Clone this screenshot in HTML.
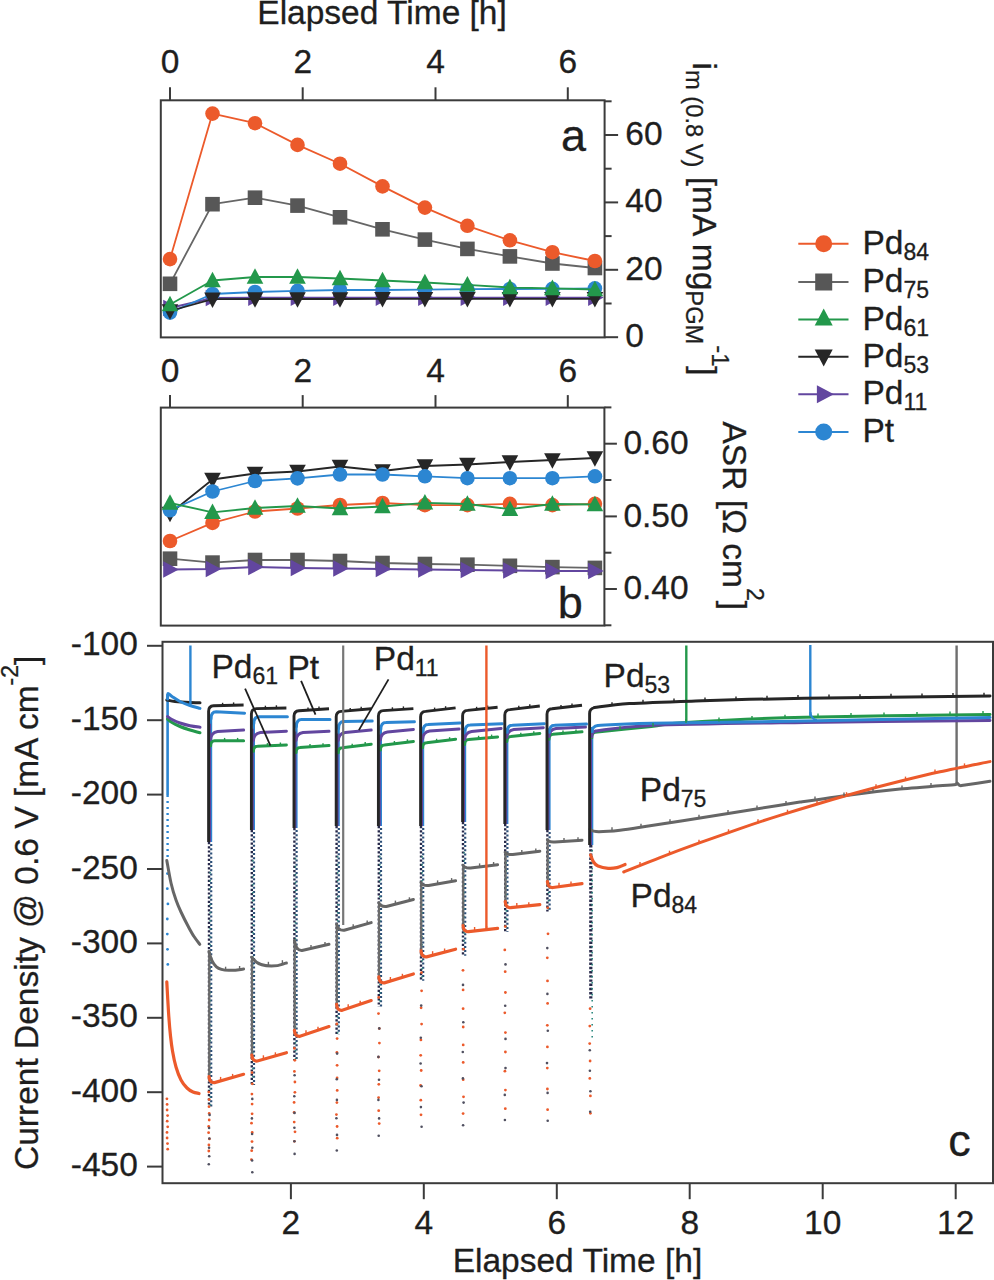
<!DOCTYPE html>
<html><head><meta charset="utf-8"><style>
html,body{margin:0;padding:0;background:#fff;}
svg{display:block;}
text{font-family:"Liberation Sans",sans-serif;fill:#1e1e1e;stroke:#1e1e1e;stroke-width:0.3px;}
</style></head><body>
<svg width="994" height="1280" viewBox="0 0 994 1280">
<rect width="994" height="1280" fill="#fff"/>
<text x="257.3" y="24.0" font-size="33.5" text-anchor="start" >Elapsed Time [h]</text>
<rect x="160.8" y="100.3" width="443.8" height="237.1" fill="none" stroke="#3b3b3b" stroke-width="2"/>
<line x1="170.0" y1="100.3" x2="170.0" y2="87.3" stroke="#3b3b3b" stroke-width="2" />
<text x="170.0" y="73.3" font-size="33.5" text-anchor="middle" >0</text>
<line x1="302.7" y1="100.3" x2="302.7" y2="87.3" stroke="#3b3b3b" stroke-width="2" />
<text x="302.7" y="73.3" font-size="33.5" text-anchor="middle" >2</text>
<line x1="435.5" y1="100.3" x2="435.5" y2="87.3" stroke="#3b3b3b" stroke-width="2" />
<text x="435.5" y="73.3" font-size="33.5" text-anchor="middle" >4</text>
<line x1="567.8" y1="100.3" x2="567.8" y2="87.3" stroke="#3b3b3b" stroke-width="2" />
<text x="567.8" y="73.3" font-size="33.5" text-anchor="middle" >6</text>
<line x1="604.6" y1="337.2" x2="618.1" y2="337.2" stroke="#3b3b3b" stroke-width="2" />
<text x="625.3" y="347.0" font-size="33.5" text-anchor="start" >0</text>
<line x1="604.6" y1="269.8" x2="618.1" y2="269.8" stroke="#3b3b3b" stroke-width="2" />
<text x="625.3" y="279.6" font-size="33.5" text-anchor="start" >20</text>
<line x1="604.6" y1="202.4" x2="618.1" y2="202.4" stroke="#3b3b3b" stroke-width="2" />
<text x="625.3" y="212.2" font-size="33.5" text-anchor="start" >40</text>
<line x1="604.6" y1="135.0" x2="618.1" y2="135.0" stroke="#3b3b3b" stroke-width="2" />
<text x="625.3" y="144.8" font-size="33.5" text-anchor="start" >60</text>
<line x1="604.6" y1="303.5" x2="611.6" y2="303.5" stroke="#3b3b3b" stroke-width="2" />
<line x1="604.6" y1="236.1" x2="611.6" y2="236.1" stroke="#3b3b3b" stroke-width="2" />
<line x1="604.6" y1="168.7" x2="611.6" y2="168.7" stroke="#3b3b3b" stroke-width="2" />
<line x1="604.6" y1="101.3" x2="611.6" y2="101.3" stroke="#3b3b3b" stroke-width="2" />
<text transform="translate(692.6,62.6) rotate(90)" font-size="33.5">i<tspan font-size="23.7" dy="6.4">m (0.8 V)</tspan><tspan dy="-6.4"> [mA mg</tspan><tspan font-size="23.7" dy="6.6">PGM</tspan><tspan font-size="23.7" dx="1" dy="-26.3">-1</tspan><tspan dy="19.7">]</tspan></text>
<text x="561.0" y="150.8" font-size="45" text-anchor="start" >a</text>
<path d="M170.0,283.8 L212.5,204.2 L255.0,197.7 L297.5,205.6 L340.0,217.3 L382.5,229.3 L424.9,239.6 L467.4,248.9 L509.9,256.4 L552.4,263.5 L594.9,268.0" fill="none" stroke="#666666" stroke-width="1.8" stroke-linejoin="round" stroke-linecap="round" />
<rect x="162.7" y="276.5" width="14.6" height="14.6" fill="#575757"/>
<rect x="205.2" y="196.9" width="14.6" height="14.6" fill="#575757"/>
<rect x="247.7" y="190.4" width="14.6" height="14.6" fill="#575757"/>
<rect x="290.2" y="198.3" width="14.6" height="14.6" fill="#575757"/>
<rect x="332.7" y="210.0" width="14.6" height="14.6" fill="#575757"/>
<rect x="375.2" y="222.0" width="14.6" height="14.6" fill="#575757"/>
<rect x="417.6" y="232.3" width="14.6" height="14.6" fill="#575757"/>
<rect x="460.1" y="241.6" width="14.6" height="14.6" fill="#575757"/>
<rect x="502.6" y="249.1" width="14.6" height="14.6" fill="#575757"/>
<rect x="545.1" y="256.2" width="14.6" height="14.6" fill="#575757"/>
<rect x="587.6" y="260.7" width="14.6" height="14.6" fill="#575757"/>
<path d="M170.0,259.1 L212.5,113.6 L255.0,123.2 L297.5,144.9 L340.0,163.7 L382.5,186.4 L424.9,207.6 L467.4,225.8 L509.9,240.3 L552.4,252.2 L594.9,261.0" fill="none" stroke="#ec5a2b" stroke-width="1.8" stroke-linejoin="round" stroke-linecap="round" />
<circle cx="170.0" cy="259.1" r="7.3" fill="#ec5a2b"/>
<circle cx="212.5" cy="113.6" r="7.3" fill="#ec5a2b"/>
<circle cx="255.0" cy="123.2" r="7.3" fill="#ec5a2b"/>
<circle cx="297.5" cy="144.9" r="7.3" fill="#ec5a2b"/>
<circle cx="340.0" cy="163.7" r="7.3" fill="#ec5a2b"/>
<circle cx="382.5" cy="186.4" r="7.3" fill="#ec5a2b"/>
<circle cx="424.9" cy="207.6" r="7.3" fill="#ec5a2b"/>
<circle cx="467.4" cy="225.8" r="7.3" fill="#ec5a2b"/>
<circle cx="509.9" cy="240.3" r="7.3" fill="#ec5a2b"/>
<circle cx="552.4" cy="252.2" r="7.3" fill="#ec5a2b"/>
<circle cx="594.9" cy="261.0" r="7.3" fill="#ec5a2b"/>
<path d="M170.0,308.0 L212.5,298.0 L255.0,297.6 L297.5,297.6 L340.0,297.6 L382.5,297.6 L424.9,297.6 L467.4,297.6 L509.9,297.6 L552.4,297.6 L594.9,297.6" fill="none" stroke="#62469f" stroke-width="1.8" stroke-linejoin="round" stroke-linecap="round" />
<path d="M178.8,308.0 L163.2,299.7 L163.2,316.3Z" fill="#62469f"/>
<path d="M221.3,298.0 L205.7,289.7 L205.7,306.3Z" fill="#62469f"/>
<path d="M263.8,297.6 L248.2,289.3 L248.2,305.9Z" fill="#62469f"/>
<path d="M306.3,297.6 L290.7,289.3 L290.7,305.9Z" fill="#62469f"/>
<path d="M348.8,297.6 L333.2,289.3 L333.2,305.9Z" fill="#62469f"/>
<path d="M391.3,297.6 L375.7,289.3 L375.7,305.9Z" fill="#62469f"/>
<path d="M433.7,297.6 L418.1,289.3 L418.1,305.9Z" fill="#62469f"/>
<path d="M476.2,297.6 L460.6,289.3 L460.6,305.9Z" fill="#62469f"/>
<path d="M518.7,297.6 L503.1,289.3 L503.1,305.9Z" fill="#62469f"/>
<path d="M561.2,297.6 L545.6,289.3 L545.6,305.9Z" fill="#62469f"/>
<path d="M603.7,297.6 L588.1,289.3 L588.1,305.9Z" fill="#62469f"/>
<path d="M170.0,312.6 L212.5,294.0 L255.0,292.0 L297.5,290.8 L340.0,290.0 L382.5,290.0 L424.9,289.6 L467.4,289.2 L509.9,289.0 L552.4,288.8 L594.9,288.4" fill="none" stroke="#2c86d2" stroke-width="1.8" stroke-linejoin="round" stroke-linecap="round" />
<circle cx="170.0" cy="312.6" r="7.3" fill="#2c86d2"/>
<circle cx="212.5" cy="294.0" r="7.3" fill="#2c86d2"/>
<circle cx="255.0" cy="292.0" r="7.3" fill="#2c86d2"/>
<circle cx="297.5" cy="290.8" r="7.3" fill="#2c86d2"/>
<circle cx="340.0" cy="290.0" r="7.3" fill="#2c86d2"/>
<circle cx="382.5" cy="290.0" r="7.3" fill="#2c86d2"/>
<circle cx="424.9" cy="289.6" r="7.3" fill="#2c86d2"/>
<circle cx="467.4" cy="289.2" r="7.3" fill="#2c86d2"/>
<circle cx="509.9" cy="289.0" r="7.3" fill="#2c86d2"/>
<circle cx="552.4" cy="288.8" r="7.3" fill="#2c86d2"/>
<circle cx="594.9" cy="288.4" r="7.3" fill="#2c86d2"/>
<path d="M170.0,311.0 L212.5,299.2 L255.0,299.0 L297.5,299.0 L340.0,299.0 L382.5,298.8 L424.9,298.8 L467.4,298.8 L509.9,298.8 L552.4,298.8 L594.9,298.8" fill="none" stroke="#262626" stroke-width="1.8" stroke-linejoin="round" stroke-linecap="round" />
<path d="M170.0,319.8 L178.3,304.2 L161.7,304.2Z" fill="#262626"/>
<path d="M212.5,308.0 L220.8,292.4 L204.2,292.4Z" fill="#262626"/>
<path d="M255.0,307.8 L263.3,292.2 L246.7,292.2Z" fill="#262626"/>
<path d="M297.5,307.8 L305.8,292.2 L289.2,292.2Z" fill="#262626"/>
<path d="M340.0,307.8 L348.3,292.2 L331.7,292.2Z" fill="#262626"/>
<path d="M382.5,307.6 L390.8,292.0 L374.2,292.0Z" fill="#262626"/>
<path d="M424.9,307.6 L433.2,292.0 L416.6,292.0Z" fill="#262626"/>
<path d="M467.4,307.6 L475.7,292.0 L459.1,292.0Z" fill="#262626"/>
<path d="M509.9,307.6 L518.2,292.0 L501.6,292.0Z" fill="#262626"/>
<path d="M552.4,307.6 L560.7,292.0 L544.1,292.0Z" fill="#262626"/>
<path d="M594.9,307.6 L603.2,292.0 L586.6,292.0Z" fill="#262626"/>
<path d="M170.0,304.5 L212.5,280.5 L255.0,277.0 L297.5,277.0 L340.0,278.5 L382.5,280.5 L424.9,282.5 L467.4,284.8 L509.9,287.5 L552.4,288.4 L594.9,289.5" fill="none" stroke="#23984b" stroke-width="1.8" stroke-linejoin="round" stroke-linecap="round" />
<path d="M170.0,295.7 L178.3,311.3 L161.7,311.3Z" fill="#23984b"/>
<path d="M212.5,271.7 L220.8,287.3 L204.2,287.3Z" fill="#23984b"/>
<path d="M255.0,268.2 L263.3,283.8 L246.7,283.8Z" fill="#23984b"/>
<path d="M297.5,268.2 L305.8,283.8 L289.2,283.8Z" fill="#23984b"/>
<path d="M340.0,269.7 L348.3,285.3 L331.7,285.3Z" fill="#23984b"/>
<path d="M382.5,271.7 L390.8,287.3 L374.2,287.3Z" fill="#23984b"/>
<path d="M424.9,273.7 L433.2,289.3 L416.6,289.3Z" fill="#23984b"/>
<path d="M467.4,276.0 L475.7,291.6 L459.1,291.6Z" fill="#23984b"/>
<path d="M509.9,278.7 L518.2,294.3 L501.6,294.3Z" fill="#23984b"/>
<path d="M552.4,279.6 L560.7,295.2 L544.1,295.2Z" fill="#23984b"/>
<path d="M594.9,280.7 L603.2,296.3 L586.6,296.3Z" fill="#23984b"/>
<rect x="160.8" y="407.6" width="443.6" height="218.0" fill="none" stroke="#3b3b3b" stroke-width="2"/>
<line x1="170.0" y1="407.6" x2="170.0" y2="395.1" stroke="#3b3b3b" stroke-width="2" />
<text x="170.0" y="382.2" font-size="33.5" text-anchor="middle" >0</text>
<line x1="302.7" y1="407.6" x2="302.7" y2="395.1" stroke="#3b3b3b" stroke-width="2" />
<text x="302.7" y="382.2" font-size="33.5" text-anchor="middle" >2</text>
<line x1="435.5" y1="407.6" x2="435.5" y2="395.1" stroke="#3b3b3b" stroke-width="2" />
<text x="435.5" y="382.2" font-size="33.5" text-anchor="middle" >4</text>
<line x1="567.8" y1="407.6" x2="567.8" y2="395.1" stroke="#3b3b3b" stroke-width="2" />
<text x="567.8" y="382.2" font-size="33.5" text-anchor="middle" >6</text>
<line x1="604.4" y1="443.7" x2="616.9" y2="443.7" stroke="#3b3b3b" stroke-width="2" />
<text x="623.4" y="454.0" font-size="33.5" text-anchor="start" >0.60</text>
<line x1="604.4" y1="516.4" x2="616.9" y2="516.4" stroke="#3b3b3b" stroke-width="2" />
<text x="623.4" y="526.6" font-size="33.5" text-anchor="start" >0.50</text>
<line x1="604.4" y1="589.0" x2="616.9" y2="589.0" stroke="#3b3b3b" stroke-width="2" />
<text x="623.4" y="599.3" font-size="33.5" text-anchor="start" >0.40</text>
<line x1="604.4" y1="407.4" x2="611.4" y2="407.4" stroke="#3b3b3b" stroke-width="2" />
<line x1="604.4" y1="480.0" x2="611.4" y2="480.0" stroke="#3b3b3b" stroke-width="2" />
<line x1="604.4" y1="552.7" x2="611.4" y2="552.7" stroke="#3b3b3b" stroke-width="2" />
<line x1="604.4" y1="625.3" x2="611.4" y2="625.3" stroke="#3b3b3b" stroke-width="2" />
<text transform="translate(723.4,421.5) rotate(90)" font-size="33.5">ASR [Ω cm<tspan font-size="23" dy="-24">2</tspan><tspan dy="24">]</tspan></text>
<text x="557.7" y="617.8" font-size="45" text-anchor="start" >b</text>
<path d="M170.0,558.7 L212.5,562.6 L255.0,560.0 L297.5,560.0 L340.0,561.0 L382.5,563.0 L424.9,564.0 L467.4,564.7 L509.9,565.8 L552.4,567.1 L594.9,567.9" fill="none" stroke="#666666" stroke-width="1.8" stroke-linejoin="round" stroke-linecap="round" />
<rect x="162.7" y="551.4" width="14.6" height="14.6" fill="#575757"/>
<rect x="205.2" y="555.3" width="14.6" height="14.6" fill="#575757"/>
<rect x="247.7" y="552.7" width="14.6" height="14.6" fill="#575757"/>
<rect x="290.2" y="552.7" width="14.6" height="14.6" fill="#575757"/>
<rect x="332.7" y="553.7" width="14.6" height="14.6" fill="#575757"/>
<rect x="375.2" y="555.7" width="14.6" height="14.6" fill="#575757"/>
<rect x="417.6" y="556.7" width="14.6" height="14.6" fill="#575757"/>
<rect x="460.1" y="557.4" width="14.6" height="14.6" fill="#575757"/>
<rect x="502.6" y="558.5" width="14.6" height="14.6" fill="#575757"/>
<rect x="545.1" y="559.8" width="14.6" height="14.6" fill="#575757"/>
<rect x="587.6" y="560.6" width="14.6" height="14.6" fill="#575757"/>
<path d="M170.0,569.5 L212.5,569.0 L255.0,567.0 L297.5,568.0 L340.0,568.5 L382.5,569.0 L424.9,569.5 L467.4,570.0 L509.9,570.5 L552.4,571.0 L594.9,571.0" fill="none" stroke="#62469f" stroke-width="1.8" stroke-linejoin="round" stroke-linecap="round" />
<path d="M178.8,569.5 L163.2,561.2 L163.2,577.8Z" fill="#62469f"/>
<path d="M221.3,569.0 L205.7,560.7 L205.7,577.3Z" fill="#62469f"/>
<path d="M263.8,567.0 L248.2,558.7 L248.2,575.3Z" fill="#62469f"/>
<path d="M306.3,568.0 L290.7,559.7 L290.7,576.3Z" fill="#62469f"/>
<path d="M348.8,568.5 L333.2,560.2 L333.2,576.8Z" fill="#62469f"/>
<path d="M391.3,569.0 L375.7,560.7 L375.7,577.3Z" fill="#62469f"/>
<path d="M433.7,569.5 L418.1,561.2 L418.1,577.8Z" fill="#62469f"/>
<path d="M476.2,570.0 L460.6,561.7 L460.6,578.3Z" fill="#62469f"/>
<path d="M518.7,570.5 L503.1,562.2 L503.1,578.8Z" fill="#62469f"/>
<path d="M561.2,571.0 L545.6,562.7 L545.6,579.3Z" fill="#62469f"/>
<path d="M603.7,571.0 L588.1,562.7 L588.1,579.3Z" fill="#62469f"/>
<path d="M170.0,541.0 L212.5,522.9 L255.0,511.5 L297.5,508.5 L340.0,505.0 L382.5,503.0 L424.9,505.1 L467.4,505.1 L509.9,503.8 L552.4,505.1 L594.9,503.8" fill="none" stroke="#ec5a2b" stroke-width="1.8" stroke-linejoin="round" stroke-linecap="round" />
<circle cx="170.0" cy="541.0" r="7.3" fill="#ec5a2b"/>
<circle cx="212.5" cy="522.9" r="7.3" fill="#ec5a2b"/>
<circle cx="255.0" cy="511.5" r="7.3" fill="#ec5a2b"/>
<circle cx="297.5" cy="508.5" r="7.3" fill="#ec5a2b"/>
<circle cx="340.0" cy="505.0" r="7.3" fill="#ec5a2b"/>
<circle cx="382.5" cy="503.0" r="7.3" fill="#ec5a2b"/>
<circle cx="424.9" cy="505.1" r="7.3" fill="#ec5a2b"/>
<circle cx="467.4" cy="505.1" r="7.3" fill="#ec5a2b"/>
<circle cx="509.9" cy="503.8" r="7.3" fill="#ec5a2b"/>
<circle cx="552.4" cy="505.1" r="7.3" fill="#ec5a2b"/>
<circle cx="594.9" cy="503.8" r="7.3" fill="#ec5a2b"/>
<path d="M170.0,513.5 L212.5,479.5 L255.0,473.5 L297.5,471.5 L340.0,466.5 L382.5,471.0 L424.9,466.0 L467.4,464.5 L509.9,462.0 L552.4,460.0 L594.9,458.0" fill="none" stroke="#262626" stroke-width="1.8" stroke-linejoin="round" stroke-linecap="round" />
<path d="M170.0,522.3 L178.3,506.7 L161.7,506.7Z" fill="#262626"/>
<path d="M212.5,488.3 L220.8,472.7 L204.2,472.7Z" fill="#262626"/>
<path d="M255.0,482.3 L263.3,466.7 L246.7,466.7Z" fill="#262626"/>
<path d="M297.5,480.3 L305.8,464.7 L289.2,464.7Z" fill="#262626"/>
<path d="M340.0,475.3 L348.3,459.7 L331.7,459.7Z" fill="#262626"/>
<path d="M382.5,479.8 L390.8,464.2 L374.2,464.2Z" fill="#262626"/>
<path d="M424.9,474.8 L433.2,459.2 L416.6,459.2Z" fill="#262626"/>
<path d="M467.4,473.3 L475.7,457.7 L459.1,457.7Z" fill="#262626"/>
<path d="M509.9,470.8 L518.2,455.2 L501.6,455.2Z" fill="#262626"/>
<path d="M552.4,468.8 L560.7,453.2 L544.1,453.2Z" fill="#262626"/>
<path d="M594.9,466.8 L603.2,451.2 L586.6,451.2Z" fill="#262626"/>
<path d="M170.0,510.3 L212.5,491.5 L255.0,481.0 L297.5,478.4 L340.0,474.5 L382.5,474.5 L424.9,476.3 L467.4,478.2 L509.9,478.2 L552.4,478.2 L594.9,476.3" fill="none" stroke="#2c86d2" stroke-width="1.8" stroke-linejoin="round" stroke-linecap="round" />
<circle cx="170.0" cy="510.3" r="7.3" fill="#2c86d2"/>
<circle cx="212.5" cy="491.5" r="7.3" fill="#2c86d2"/>
<circle cx="255.0" cy="481.0" r="7.3" fill="#2c86d2"/>
<circle cx="297.5" cy="478.4" r="7.3" fill="#2c86d2"/>
<circle cx="340.0" cy="474.5" r="7.3" fill="#2c86d2"/>
<circle cx="382.5" cy="474.5" r="7.3" fill="#2c86d2"/>
<circle cx="424.9" cy="476.3" r="7.3" fill="#2c86d2"/>
<circle cx="467.4" cy="478.2" r="7.3" fill="#2c86d2"/>
<circle cx="509.9" cy="478.2" r="7.3" fill="#2c86d2"/>
<circle cx="552.4" cy="478.2" r="7.3" fill="#2c86d2"/>
<circle cx="594.9" cy="476.3" r="7.3" fill="#2c86d2"/>
<path d="M170.0,503.0 L212.5,512.3 L255.0,508.0 L297.5,506.0 L340.0,508.5 L382.5,506.5 L424.9,502.8 L467.4,504.0 L509.9,509.2 L552.4,504.0 L594.9,504.5" fill="none" stroke="#23984b" stroke-width="1.8" stroke-linejoin="round" stroke-linecap="round" />
<path d="M170.0,494.2 L178.3,509.8 L161.7,509.8Z" fill="#23984b"/>
<path d="M212.5,503.5 L220.8,519.1 L204.2,519.1Z" fill="#23984b"/>
<path d="M255.0,499.2 L263.3,514.8 L246.7,514.8Z" fill="#23984b"/>
<path d="M297.5,497.2 L305.8,512.8 L289.2,512.8Z" fill="#23984b"/>
<path d="M340.0,499.7 L348.3,515.3 L331.7,515.3Z" fill="#23984b"/>
<path d="M382.5,497.7 L390.8,513.3 L374.2,513.3Z" fill="#23984b"/>
<path d="M424.9,494.0 L433.2,509.6 L416.6,509.6Z" fill="#23984b"/>
<path d="M467.4,495.2 L475.7,510.8 L459.1,510.8Z" fill="#23984b"/>
<path d="M509.9,500.4 L518.2,516.0 L501.6,516.0Z" fill="#23984b"/>
<path d="M552.4,495.2 L560.7,510.8 L544.1,510.8Z" fill="#23984b"/>
<path d="M594.9,495.7 L603.2,511.3 L586.6,511.3Z" fill="#23984b"/>
<line x1="798.3" y1="243.7" x2="848.5" y2="243.7" stroke="#ec5a2b" stroke-width="2" />
<circle cx="823.7" cy="243.7" r="8.5" fill="#ec5a2b"/>
<text x="862.4" y="253.7" font-size="33.5">Pd<tspan font-size="23" dy="6">84</tspan></text>
<line x1="798.3" y1="282.0" x2="848.5" y2="282.0" stroke="#666666" stroke-width="2" />
<rect x="815.2" y="273.5" width="17.0" height="17.0" fill="#575757"/>
<text x="862.4" y="292.0" font-size="33.5">Pd<tspan font-size="23" dy="6">75</tspan></text>
<line x1="798.3" y1="319.5" x2="848.5" y2="319.5" stroke="#23984b" stroke-width="2" />
<path d="M823.7,308.5 L832.7,325.5 L814.7,325.5Z" fill="#23984b"/>
<text x="862.4" y="329.5" font-size="33.5">Pd<tspan font-size="23" dy="6">61</tspan></text>
<line x1="798.3" y1="356.8" x2="848.5" y2="356.8" stroke="#262626" stroke-width="2" />
<path d="M823.7,366.5 L832.7,349.5 L814.7,349.5Z" fill="#262626"/>
<text x="862.4" y="366.8" font-size="33.5">Pd<tspan font-size="23" dy="6">53</tspan></text>
<line x1="798.3" y1="394.2" x2="848.5" y2="394.2" stroke="#62469f" stroke-width="2" />
<path d="M833.9,394.2 L816.9,385.2 L816.9,403.2Z" fill="#62469f"/>
<text x="862.4" y="404.2" font-size="33.5">Pd<tspan font-size="23" dy="6">11</tspan></text>
<line x1="798.3" y1="432.0" x2="848.5" y2="432.0" stroke="#2c86d2" stroke-width="2" />
<circle cx="823.7" cy="432.0" r="8.5" fill="#2c86d2"/>
<text x="862.4" y="442.0" font-size="33.5" text-anchor="start" >Pt</text>
<rect x="162.5" y="641.8" width="830.5" height="541.4" fill="none" stroke="#3b3b3b" stroke-width="2"/>
<line x1="162.5" y1="645.8" x2="147.0" y2="645.8" stroke="#3b3b3b" stroke-width="2" />
<text x="137.8" y="655.4" font-size="33.5" text-anchor="end" >-100</text>
<line x1="162.5" y1="720.2" x2="147.0" y2="720.2" stroke="#3b3b3b" stroke-width="2" />
<text x="137.8" y="729.8" font-size="33.5" text-anchor="end" >-150</text>
<line x1="162.5" y1="794.6" x2="147.0" y2="794.6" stroke="#3b3b3b" stroke-width="2" />
<text x="137.8" y="804.2" font-size="33.5" text-anchor="end" >-200</text>
<line x1="162.5" y1="869.0" x2="147.0" y2="869.0" stroke="#3b3b3b" stroke-width="2" />
<text x="137.8" y="878.6" font-size="33.5" text-anchor="end" >-250</text>
<line x1="162.5" y1="943.4" x2="147.0" y2="943.4" stroke="#3b3b3b" stroke-width="2" />
<text x="137.8" y="953.0" font-size="33.5" text-anchor="end" >-300</text>
<line x1="162.5" y1="1017.8" x2="147.0" y2="1017.8" stroke="#3b3b3b" stroke-width="2" />
<text x="137.8" y="1027.4" font-size="33.5" text-anchor="end" >-350</text>
<line x1="162.5" y1="1092.2" x2="147.0" y2="1092.2" stroke="#3b3b3b" stroke-width="2" />
<text x="137.8" y="1101.8" font-size="33.5" text-anchor="end" >-400</text>
<line x1="162.5" y1="1166.6" x2="147.0" y2="1166.6" stroke="#3b3b3b" stroke-width="2" />
<text x="137.8" y="1176.2" font-size="33.5" text-anchor="end" >-450</text>
<line x1="290.9" y1="1183.2" x2="290.9" y2="1199.2" stroke="#3b3b3b" stroke-width="2" />
<text x="290.9" y="1234.2" font-size="33.5" text-anchor="middle" >2</text>
<line x1="423.8" y1="1183.2" x2="423.8" y2="1199.2" stroke="#3b3b3b" stroke-width="2" />
<text x="423.8" y="1234.2" font-size="33.5" text-anchor="middle" >4</text>
<line x1="556.8" y1="1183.2" x2="556.8" y2="1199.2" stroke="#3b3b3b" stroke-width="2" />
<text x="556.8" y="1234.2" font-size="33.5" text-anchor="middle" >6</text>
<line x1="689.7" y1="1183.2" x2="689.7" y2="1199.2" stroke="#3b3b3b" stroke-width="2" />
<text x="689.7" y="1234.2" font-size="33.5" text-anchor="middle" >8</text>
<line x1="822.7" y1="1183.2" x2="822.7" y2="1199.2" stroke="#3b3b3b" stroke-width="2" />
<text x="822.7" y="1234.2" font-size="33.5" text-anchor="middle" >10</text>
<line x1="955.7" y1="1183.2" x2="955.7" y2="1199.2" stroke="#3b3b3b" stroke-width="2" />
<text x="955.7" y="1234.2" font-size="33.5" text-anchor="middle" >12</text>
<text x="452.7" y="1272.4" font-size="33.5" text-anchor="start" >Elapsed Time [h]</text>
<text transform="translate(37.6,1170) rotate(-90)" font-size="33.5">Current Density @ 0.6 V [mA cm<tspan font-size="23" dy="-19.5">-2</tspan><tspan dy="19.5">]</tspan></text>
<text x="948.2" y="1156.2" font-size="45" text-anchor="start" >c</text>
<line x1="211.0" y1="714.8" x2="211.0" y2="842.0" stroke="#2c86d2" stroke-width="2.4" />
<line x1="210.2" y1="723.8" x2="210.2" y2="842.0" stroke="#62469f" stroke-width="1.6" />
<line x1="209.0" y1="842.0" x2="209.0" y2="1106.6" stroke="#27294a" stroke-width="2.4" stroke-dasharray="2.2 2.0"/>
<line x1="211.2" y1="844.1" x2="211.2" y2="1106.6" stroke="#2c4f78" stroke-width="2.2" stroke-dasharray="2.0 2.2"/>
<line x1="210.1" y1="872.0" x2="210.1" y2="1106.6" stroke="#2b8a7c" stroke-width="1.4" stroke-dasharray="1.4 6.6"/>
<line x1="209.2" y1="951.5" x2="209.2" y2="1081.6" stroke="#6b6b6b" stroke-width="2.2" />
<circle cx="208.8" cy="1092.1" r="1.4" fill="#ec5a2b"/>
<circle cx="209.1" cy="1099.6" r="1.4" fill="#ec5a2b"/>
<circle cx="209.0" cy="1106.7" r="1.4" fill="#ec5a2b"/>
<circle cx="209.2" cy="1113.4" r="1.4" fill="#ec5a2b"/>
<circle cx="209.2" cy="1120.0" r="1.4" fill="#ec5a2b"/>
<circle cx="208.7" cy="1126.4" r="1.4" fill="#ec5a2b"/>
<circle cx="208.6" cy="1132.7" r="1.4" fill="#ec5a2b"/>
<circle cx="209.4" cy="1138.9" r="1.4" fill="#ec5a2b"/>
<circle cx="208.9" cy="1145.0" r="1.4" fill="#ec5a2b"/>
<circle cx="208.8" cy="1151.0" r="1.4" fill="#ec5a2b"/>
<circle cx="209.6" cy="1114.9" r="1.3" fill="#505060"/>
<circle cx="209.1" cy="1128.0" r="1.3" fill="#505060"/>
<circle cx="209.4" cy="1138.5" r="1.3" fill="#505060"/>
<circle cx="209.1" cy="1147.8" r="1.3" fill="#505060"/>
<circle cx="209.2" cy="1156.3" r="1.3" fill="#505060"/>
<circle cx="208.8" cy="1164.2" r="1.3" fill="#505060"/>
<line x1="253.8" y1="719.8" x2="253.8" y2="830.0" stroke="#2c86d2" stroke-width="2.4" />
<line x1="253.0" y1="728.8" x2="253.0" y2="830.0" stroke="#62469f" stroke-width="1.6" />
<line x1="251.8" y1="830.0" x2="251.8" y2="1085.0" stroke="#27294a" stroke-width="2.4" stroke-dasharray="2.2 2.0"/>
<line x1="254.0" y1="832.1" x2="254.0" y2="1085.0" stroke="#2c4f78" stroke-width="2.2" stroke-dasharray="2.0 2.2"/>
<line x1="252.9" y1="860.0" x2="252.9" y2="1085.0" stroke="#2b8a7c" stroke-width="1.4" stroke-dasharray="1.4 6.6"/>
<line x1="252.0" y1="957.3" x2="252.0" y2="1060.0" stroke="#6b6b6b" stroke-width="2.2" />
<circle cx="252.0" cy="1072.6" r="1.4" fill="#ec5a2b"/>
<circle cx="252.3" cy="1083.8" r="1.4" fill="#ec5a2b"/>
<circle cx="251.9" cy="1094.1" r="1.4" fill="#ec5a2b"/>
<circle cx="252.1" cy="1104.1" r="1.4" fill="#ec5a2b"/>
<circle cx="252.1" cy="1113.8" r="1.4" fill="#ec5a2b"/>
<circle cx="251.5" cy="1123.2" r="1.4" fill="#ec5a2b"/>
<circle cx="252.2" cy="1132.5" r="1.4" fill="#ec5a2b"/>
<circle cx="252.0" cy="1141.6" r="1.4" fill="#ec5a2b"/>
<circle cx="251.7" cy="1150.7" r="1.4" fill="#ec5a2b"/>
<circle cx="251.4" cy="1159.6" r="1.4" fill="#ec5a2b"/>
<circle cx="252.3" cy="1098.9" r="1.3" fill="#505060"/>
<circle cx="251.9" cy="1118.4" r="1.3" fill="#505060"/>
<circle cx="252.1" cy="1134.0" r="1.3" fill="#505060"/>
<circle cx="252.3" cy="1147.8" r="1.3" fill="#505060"/>
<circle cx="252.1" cy="1160.5" r="1.3" fill="#505060"/>
<circle cx="252.3" cy="1172.3" r="1.3" fill="#505060"/>
<line x1="296.4" y1="722.6" x2="296.4" y2="828.0" stroke="#2c86d2" stroke-width="2.4" />
<line x1="295.6" y1="731.6" x2="295.6" y2="828.0" stroke="#62469f" stroke-width="1.6" />
<line x1="294.4" y1="828.0" x2="294.4" y2="1060.3" stroke="#27294a" stroke-width="2.4" stroke-dasharray="2.2 2.0"/>
<line x1="296.6" y1="830.1" x2="296.6" y2="1060.3" stroke="#2c4f78" stroke-width="2.2" stroke-dasharray="2.0 2.2"/>
<line x1="295.5" y1="858.0" x2="295.5" y2="1060.3" stroke="#2b8a7c" stroke-width="1.4" stroke-dasharray="1.4 6.6"/>
<line x1="294.6" y1="941.4" x2="294.6" y2="1035.3" stroke="#6b6b6b" stroke-width="2.2" />
<circle cx="294.4" cy="1048.4" r="1.4" fill="#ec5a2b"/>
<circle cx="294.8" cy="1060.3" r="1.4" fill="#ec5a2b"/>
<circle cx="294.4" cy="1071.4" r="1.4" fill="#ec5a2b"/>
<circle cx="294.9" cy="1082.0" r="1.4" fill="#ec5a2b"/>
<circle cx="294.9" cy="1092.3" r="1.4" fill="#ec5a2b"/>
<circle cx="294.1" cy="1102.4" r="1.4" fill="#ec5a2b"/>
<circle cx="294.1" cy="1112.4" r="1.4" fill="#ec5a2b"/>
<circle cx="294.2" cy="1122.1" r="1.4" fill="#ec5a2b"/>
<circle cx="295.0" cy="1131.8" r="1.4" fill="#ec5a2b"/>
<circle cx="294.4" cy="1141.3" r="1.4" fill="#ec5a2b"/>
<circle cx="294.6" cy="1075.3" r="1.3" fill="#505060"/>
<circle cx="294.3" cy="1096.2" r="1.3" fill="#505060"/>
<circle cx="294.5" cy="1112.9" r="1.3" fill="#505060"/>
<circle cx="294.4" cy="1127.7" r="1.3" fill="#505060"/>
<circle cx="294.4" cy="1141.3" r="1.3" fill="#505060"/>
<circle cx="294.6" cy="1153.9" r="1.3" fill="#505060"/>
<line x1="338.6" y1="724.4" x2="338.6" y2="826.0" stroke="#2c86d2" stroke-width="2.4" />
<line x1="337.8" y1="733.4" x2="337.8" y2="826.0" stroke="#62469f" stroke-width="1.6" />
<line x1="336.6" y1="826.0" x2="336.6" y2="1034.3" stroke="#27294a" stroke-width="2.4" stroke-dasharray="2.2 2.0"/>
<line x1="338.8" y1="828.1" x2="338.8" y2="1034.3" stroke="#2c4f78" stroke-width="2.2" stroke-dasharray="2.0 2.2"/>
<line x1="337.7" y1="856.0" x2="337.7" y2="1034.3" stroke="#2b8a7c" stroke-width="1.4" stroke-dasharray="1.4 6.6"/>
<line x1="336.8" y1="925.5" x2="336.8" y2="1009.3" stroke="#6b6b6b" stroke-width="2.2" />
<circle cx="336.8" cy="1024.0" r="1.4" fill="#ec5a2b"/>
<circle cx="337.1" cy="1038.6" r="1.4" fill="#ec5a2b"/>
<circle cx="336.9" cy="1052.3" r="1.4" fill="#ec5a2b"/>
<circle cx="337.1" cy="1065.3" r="1.4" fill="#ec5a2b"/>
<circle cx="337.1" cy="1078.0" r="1.4" fill="#ec5a2b"/>
<circle cx="337.2" cy="1090.4" r="1.4" fill="#ec5a2b"/>
<circle cx="336.9" cy="1102.6" r="1.4" fill="#ec5a2b"/>
<circle cx="336.4" cy="1114.6" r="1.4" fill="#ec5a2b"/>
<circle cx="337.1" cy="1126.5" r="1.4" fill="#ec5a2b"/>
<circle cx="337.2" cy="1138.2" r="1.4" fill="#ec5a2b"/>
<circle cx="337.1" cy="1053.6" r="1.3" fill="#505060"/>
<circle cx="336.8" cy="1079.3" r="1.3" fill="#505060"/>
<circle cx="336.9" cy="1099.9" r="1.3" fill="#505060"/>
<circle cx="336.4" cy="1118.2" r="1.3" fill="#505060"/>
<circle cx="337.0" cy="1134.9" r="1.3" fill="#505060"/>
<circle cx="336.8" cy="1150.5" r="1.3" fill="#505060"/>
<line x1="380.8" y1="725.4" x2="380.8" y2="826.0" stroke="#2c86d2" stroke-width="2.4" />
<line x1="380.0" y1="734.4" x2="380.0" y2="826.0" stroke="#62469f" stroke-width="1.6" />
<line x1="378.8" y1="826.0" x2="378.8" y2="1006.8" stroke="#27294a" stroke-width="2.4" stroke-dasharray="2.2 2.0"/>
<line x1="381.0" y1="828.1" x2="381.0" y2="1006.8" stroke="#2c4f78" stroke-width="2.2" stroke-dasharray="2.0 2.2"/>
<line x1="379.9" y1="856.0" x2="379.9" y2="1006.8" stroke="#2b8a7c" stroke-width="1.4" stroke-dasharray="1.4 6.6"/>
<line x1="379.0" y1="903.8" x2="379.0" y2="981.8" stroke="#6b6b6b" stroke-width="2.2" />
<circle cx="378.7" cy="997.4" r="1.4" fill="#ec5a2b"/>
<circle cx="378.5" cy="1013.6" r="1.4" fill="#ec5a2b"/>
<circle cx="379.3" cy="1028.6" r="1.4" fill="#ec5a2b"/>
<circle cx="379.4" cy="1043.1" r="1.4" fill="#ec5a2b"/>
<circle cx="378.5" cy="1057.1" r="1.4" fill="#ec5a2b"/>
<circle cx="379.2" cy="1070.8" r="1.4" fill="#ec5a2b"/>
<circle cx="378.8" cy="1084.3" r="1.4" fill="#ec5a2b"/>
<circle cx="378.6" cy="1097.6" r="1.4" fill="#ec5a2b"/>
<circle cx="378.7" cy="1110.7" r="1.4" fill="#ec5a2b"/>
<circle cx="379.2" cy="1123.6" r="1.4" fill="#ec5a2b"/>
<circle cx="379.3" cy="1028.4" r="1.3" fill="#505060"/>
<circle cx="378.4" cy="1056.9" r="1.3" fill="#505060"/>
<circle cx="379.0" cy="1079.8" r="1.3" fill="#505060"/>
<circle cx="378.4" cy="1099.9" r="1.3" fill="#505060"/>
<circle cx="379.1" cy="1118.4" r="1.3" fill="#505060"/>
<circle cx="378.7" cy="1135.7" r="1.3" fill="#505060"/>
<line x1="423.0" y1="727.5" x2="423.0" y2="826.0" stroke="#2c86d2" stroke-width="2.4" />
<line x1="422.2" y1="736.5" x2="422.2" y2="826.0" stroke="#62469f" stroke-width="1.6" />
<line x1="421.0" y1="826.0" x2="421.0" y2="980.8" stroke="#27294a" stroke-width="2.4" stroke-dasharray="2.2 2.0"/>
<line x1="423.2" y1="828.1" x2="423.2" y2="980.8" stroke="#2c4f78" stroke-width="2.2" stroke-dasharray="2.0 2.2"/>
<line x1="422.1" y1="856.0" x2="422.1" y2="980.8" stroke="#2b8a7c" stroke-width="1.4" stroke-dasharray="1.4 6.6"/>
<line x1="421.2" y1="883.6" x2="421.2" y2="955.8" stroke="#6b6b6b" stroke-width="2.2" />
<circle cx="421.5" cy="972.6" r="1.4" fill="#ec5a2b"/>
<circle cx="421.6" cy="990.8" r="1.4" fill="#ec5a2b"/>
<circle cx="421.1" cy="1007.8" r="1.4" fill="#ec5a2b"/>
<circle cx="421.6" cy="1024.1" r="1.4" fill="#ec5a2b"/>
<circle cx="420.9" cy="1039.9" r="1.4" fill="#ec5a2b"/>
<circle cx="420.7" cy="1055.3" r="1.4" fill="#ec5a2b"/>
<circle cx="421.2" cy="1070.5" r="1.4" fill="#ec5a2b"/>
<circle cx="420.6" cy="1085.5" r="1.4" fill="#ec5a2b"/>
<circle cx="420.8" cy="1100.2" r="1.4" fill="#ec5a2b"/>
<circle cx="421.0" cy="1114.8" r="1.4" fill="#ec5a2b"/>
<circle cx="421.2" cy="1005.6" r="1.3" fill="#505060"/>
<circle cx="420.8" cy="1037.7" r="1.3" fill="#505060"/>
<circle cx="420.6" cy="1063.5" r="1.3" fill="#505060"/>
<circle cx="421.5" cy="1086.3" r="1.3" fill="#505060"/>
<circle cx="420.9" cy="1107.1" r="1.3" fill="#505060"/>
<circle cx="421.6" cy="1126.7" r="1.3" fill="#505060"/>
<line x1="465.0" y1="728.0" x2="465.0" y2="822.0" stroke="#2c86d2" stroke-width="2.4" />
<line x1="464.2" y1="737.0" x2="464.2" y2="822.0" stroke="#62469f" stroke-width="1.6" />
<line x1="463.0" y1="822.0" x2="463.0" y2="955.7" stroke="#27294a" stroke-width="2.4" stroke-dasharray="2.2 2.0"/>
<line x1="465.2" y1="824.1" x2="465.2" y2="955.7" stroke="#2c4f78" stroke-width="2.2" stroke-dasharray="2.0 2.2"/>
<line x1="464.1" y1="852.0" x2="464.1" y2="955.7" stroke="#2b8a7c" stroke-width="1.4" stroke-dasharray="1.4 6.6"/>
<line x1="463.2" y1="866.2" x2="463.2" y2="930.7" stroke="#6b6b6b" stroke-width="2.2" />
<circle cx="463.5" cy="949.2" r="1.4" fill="#ec5a2b"/>
<circle cx="463.0" cy="970.3" r="1.4" fill="#ec5a2b"/>
<circle cx="463.1" cy="989.9" r="1.4" fill="#ec5a2b"/>
<circle cx="463.1" cy="1008.7" r="1.4" fill="#ec5a2b"/>
<circle cx="463.2" cy="1027.0" r="1.4" fill="#ec5a2b"/>
<circle cx="463.2" cy="1044.9" r="1.4" fill="#ec5a2b"/>
<circle cx="463.2" cy="1062.4" r="1.4" fill="#ec5a2b"/>
<circle cx="463.2" cy="1079.7" r="1.4" fill="#ec5a2b"/>
<circle cx="463.5" cy="1096.8" r="1.4" fill="#ec5a2b"/>
<circle cx="463.1" cy="1113.6" r="1.4" fill="#ec5a2b"/>
<circle cx="463.0" cy="984.9" r="1.3" fill="#505060"/>
<circle cx="463.3" cy="1022.2" r="1.3" fill="#505060"/>
<circle cx="462.8" cy="1052.0" r="1.3" fill="#505060"/>
<circle cx="462.9" cy="1078.4" r="1.3" fill="#505060"/>
<circle cx="463.6" cy="1102.6" r="1.3" fill="#505060"/>
<circle cx="463.1" cy="1125.2" r="1.3" fill="#505060"/>
<line x1="507.2" y1="728.3" x2="507.2" y2="824.0" stroke="#2c86d2" stroke-width="2.4" />
<line x1="506.4" y1="737.3" x2="506.4" y2="824.0" stroke="#62469f" stroke-width="1.6" />
<line x1="505.2" y1="824.0" x2="505.2" y2="931.7" stroke="#27294a" stroke-width="2.4" stroke-dasharray="2.2 2.0"/>
<line x1="507.4" y1="826.1" x2="507.4" y2="931.7" stroke="#2c4f78" stroke-width="2.2" stroke-dasharray="2.0 2.2"/>
<line x1="506.3" y1="854.0" x2="506.3" y2="931.7" stroke="#2b8a7c" stroke-width="1.4" stroke-dasharray="1.4 6.6"/>
<line x1="505.4" y1="853.2" x2="505.4" y2="906.7" stroke="#6b6b6b" stroke-width="2.2" />
<circle cx="505.3" cy="926.6" r="1.4" fill="#ec5a2b"/>
<circle cx="504.8" cy="949.9" r="1.4" fill="#ec5a2b"/>
<circle cx="505.2" cy="971.7" r="1.4" fill="#ec5a2b"/>
<circle cx="505.4" cy="992.5" r="1.4" fill="#ec5a2b"/>
<circle cx="504.8" cy="1012.8" r="1.4" fill="#ec5a2b"/>
<circle cx="505.4" cy="1032.6" r="1.4" fill="#ec5a2b"/>
<circle cx="505.4" cy="1052.0" r="1.4" fill="#ec5a2b"/>
<circle cx="504.9" cy="1071.2" r="1.4" fill="#ec5a2b"/>
<circle cx="505.4" cy="1090.1" r="1.4" fill="#ec5a2b"/>
<circle cx="505.3" cy="1108.7" r="1.4" fill="#ec5a2b"/>
<circle cx="505.5" cy="964.4" r="1.3" fill="#505060"/>
<circle cx="505.2" cy="1005.7" r="1.3" fill="#505060"/>
<circle cx="505.5" cy="1038.9" r="1.3" fill="#505060"/>
<circle cx="505.5" cy="1068.1" r="1.3" fill="#505060"/>
<circle cx="504.8" cy="1094.9" r="1.3" fill="#505060"/>
<circle cx="504.9" cy="1120.0" r="1.3" fill="#505060"/>
<line x1="549.4" y1="728.3" x2="549.4" y2="830.0" stroke="#2c86d2" stroke-width="2.4" />
<line x1="548.6" y1="737.3" x2="548.6" y2="830.0" stroke="#62469f" stroke-width="1.6" />
<line x1="547.4" y1="830.0" x2="547.4" y2="911.5" stroke="#27294a" stroke-width="2.4" stroke-dasharray="2.2 2.0"/>
<line x1="549.6" y1="832.1" x2="549.6" y2="911.5" stroke="#2c4f78" stroke-width="2.2" stroke-dasharray="2.0 2.2"/>
<line x1="548.5" y1="860.0" x2="548.5" y2="911.5" stroke="#2b8a7c" stroke-width="1.4" stroke-dasharray="1.4 6.6"/>
<line x1="547.6" y1="840.8" x2="547.6" y2="886.5" stroke="#6b6b6b" stroke-width="2.2" />
<circle cx="547.7" cy="907.8" r="1.4" fill="#ec5a2b"/>
<circle cx="548.0" cy="933.8" r="1.4" fill="#ec5a2b"/>
<circle cx="547.3" cy="957.8" r="1.4" fill="#ec5a2b"/>
<circle cx="547.5" cy="980.9" r="1.4" fill="#ec5a2b"/>
<circle cx="547.6" cy="1003.4" r="1.4" fill="#ec5a2b"/>
<circle cx="547.3" cy="1025.3" r="1.4" fill="#ec5a2b"/>
<circle cx="547.4" cy="1046.9" r="1.4" fill="#ec5a2b"/>
<circle cx="547.3" cy="1068.1" r="1.4" fill="#ec5a2b"/>
<circle cx="547.4" cy="1089.0" r="1.4" fill="#ec5a2b"/>
<circle cx="547.6" cy="1109.7" r="1.4" fill="#ec5a2b"/>
<circle cx="547.3" cy="948.1" r="1.3" fill="#505060"/>
<circle cx="547.4" cy="993.9" r="1.3" fill="#505060"/>
<circle cx="547.8" cy="1030.7" r="1.3" fill="#505060"/>
<circle cx="547.0" cy="1063.1" r="1.3" fill="#505060"/>
<circle cx="547.6" cy="1092.9" r="1.3" fill="#505060"/>
<circle cx="547.7" cy="1120.7" r="1.3" fill="#505060"/>
<path d="M210.6,745.7 Q210.6,740.7 214.6,740.7 L243.6,740.7" fill="none" stroke="#23984b" stroke-width="3.0" stroke-linecap="round"/>
<path d="M210.6,739.5 Q211.1,732.5 217.6,731.5 L243.6,730.0" fill="none" stroke="#62469f" stroke-width="3.0" stroke-linecap="round"/>
<path d="M211.0,718.8 Q211.0,711.8 216.1,711.8 L244.6,713.2" fill="none" stroke="#2c86d2" stroke-width="3.0" stroke-linecap="round"/>
<path d="M209.0,951.5 C212.6,967.3 218.6,970.3 228.6,970.3 S239.6,969.5 243.6,969.0" fill="none" stroke="#666666" stroke-width="3.0" stroke-linecap="round"/>
<path d="M209.0,1076.6 Q209.6,1083.1 214.6,1082.6 L243.6,1074.3" fill="none" stroke="#ec5a2b" stroke-width="3.2" stroke-linecap="round"/>
<path d="M208.6,842.0 L208.6,711.2 Q208.6,706.2 213.6,705.8 L243.6,705.0" fill="none" stroke="#262626" stroke-width="2.9" stroke-linejoin="round"/>
<path d="M253.4,751.3 Q253.4,746.3 257.4,746.3 L286.4,745.0" fill="none" stroke="#23984b" stroke-width="3.0" stroke-linecap="round"/>
<path d="M253.4,740.5 Q253.9,733.5 260.4,732.5 L286.4,731.3" fill="none" stroke="#62469f" stroke-width="3.0" stroke-linecap="round"/>
<path d="M253.8,723.8 Q253.8,716.8 258.9,716.8 L287.4,716.8" fill="none" stroke="#2c86d2" stroke-width="3.0" stroke-linecap="round"/>
<path d="M251.8,957.3 C255.4,963.0 261.4,966.0 271.4,966.0 S282.4,963.5 286.4,963.0" fill="none" stroke="#666666" stroke-width="3.0" stroke-linecap="round"/>
<path d="M251.8,1055.0 Q252.4,1061.5 257.4,1061.0 L286.4,1052.7" fill="none" stroke="#ec5a2b" stroke-width="3.2" stroke-linecap="round"/>
<path d="M251.4,830.0 L251.4,714.0 Q251.4,709.0 256.4,708.6 L286.4,708.0" fill="none" stroke="#262626" stroke-width="2.9" stroke-linejoin="round"/>
<path d="M296.0,752.5 Q296.0,747.5 300.0,747.5 L329.0,745.6" fill="none" stroke="#23984b" stroke-width="3.0" stroke-linecap="round"/>
<path d="M296.0,740.5 Q296.5,733.5 303.0,732.5 L329.0,731.3" fill="none" stroke="#62469f" stroke-width="3.0" stroke-linecap="round"/>
<path d="M296.4,726.6 Q296.4,719.6 301.5,719.6 L330.0,719.6" fill="none" stroke="#2c86d2" stroke-width="3.0" stroke-linecap="round"/>
<path d="M294.4,940.4 Q296.0,951.0 302.0,950.5 L329.0,944.3" fill="none" stroke="#666666" stroke-width="3.0" stroke-linecap="round" stroke-linejoin="round"/>
<path d="M294.4,1030.3 Q295.0,1036.8 300.0,1036.3 L329.0,1026.6" fill="none" stroke="#ec5a2b" stroke-width="3.2" stroke-linecap="round"/>
<path d="M294.0,828.0 L294.0,716.1 Q294.0,711.1 299.0,710.7 L329.0,708.7" fill="none" stroke="#262626" stroke-width="2.9" stroke-linejoin="round"/>
<path d="M338.2,752.7 Q338.2,747.7 342.2,747.7 L371.2,744.2" fill="none" stroke="#23984b" stroke-width="3.0" stroke-linecap="round"/>
<path d="M338.2,740.5 Q338.7,733.5 345.2,732.5 L371.2,730.1" fill="none" stroke="#62469f" stroke-width="3.0" stroke-linecap="round"/>
<path d="M338.6,728.4 Q338.6,721.4 343.7,721.4 L372.2,721.0" fill="none" stroke="#2c86d2" stroke-width="3.0" stroke-linecap="round"/>
<path d="M336.6,924.5 Q338.2,930.8 344.2,930.3 L371.2,922.6" fill="none" stroke="#666666" stroke-width="3.0" stroke-linecap="round" stroke-linejoin="round"/>
<path d="M336.6,1004.3 Q337.2,1010.8 342.2,1010.3 L371.2,1000.6" fill="none" stroke="#ec5a2b" stroke-width="3.2" stroke-linecap="round"/>
<path d="M336.2,826.0 L336.2,716.8 Q336.2,711.8 341.2,711.4 L371.2,708.7" fill="none" stroke="#262626" stroke-width="2.9" stroke-linejoin="round"/>
<path d="M380.4,750.0 Q380.4,745.0 384.4,745.0 L413.4,741.4" fill="none" stroke="#23984b" stroke-width="3.0" stroke-linecap="round"/>
<path d="M380.4,740.0 Q380.9,733.0 387.4,732.0 L413.4,729.4" fill="none" stroke="#62469f" stroke-width="3.0" stroke-linecap="round"/>
<path d="M380.8,729.4 Q380.8,722.4 385.9,722.4 L414.4,721.7" fill="none" stroke="#2c86d2" stroke-width="3.0" stroke-linecap="round"/>
<path d="M378.8,902.8 Q380.4,907.0 386.4,906.5 L413.4,899.5" fill="none" stroke="#666666" stroke-width="3.0" stroke-linecap="round" stroke-linejoin="round"/>
<path d="M378.8,976.8 Q379.4,983.3 384.4,982.8 L413.4,974.0" fill="none" stroke="#ec5a2b" stroke-width="3.2" stroke-linecap="round"/>
<path d="M378.4,826.0 L378.4,716.0 Q378.4,711.0 383.4,710.6 L413.4,708.6" fill="none" stroke="#262626" stroke-width="2.9" stroke-linejoin="round"/>
<path d="M422.6,747.8 Q422.6,742.8 426.6,742.8 L455.6,739.3" fill="none" stroke="#23984b" stroke-width="3.0" stroke-linecap="round"/>
<path d="M422.6,739.0 Q423.1,732.0 429.6,731.0 L459.1,729.0" fill="none" stroke="#62469f" stroke-width="3.0" stroke-linecap="round"/>
<path d="M423.0,731.5 Q423.0,724.5 428.1,724.5 L460.1,723.1" fill="none" stroke="#2c86d2" stroke-width="3.0" stroke-linecap="round"/>
<path d="M421.0,882.6 Q422.6,886.0 428.6,885.5 L455.6,880.7" fill="none" stroke="#666666" stroke-width="3.0" stroke-linecap="round" stroke-linejoin="round"/>
<path d="M421.0,950.8 Q421.6,957.3 426.6,956.8 L455.6,949.2" fill="none" stroke="#ec5a2b" stroke-width="3.2" stroke-linecap="round"/>
<path d="M420.6,826.0 L420.6,716.8 Q420.6,711.8 425.6,711.4 L455.6,707.9" fill="none" stroke="#262626" stroke-width="2.9" stroke-linejoin="round"/>
<path d="M464.6,744.5 Q464.6,739.5 468.6,739.5 L497.6,736.9" fill="none" stroke="#23984b" stroke-width="3.0" stroke-linecap="round"/>
<path d="M464.6,739.5 Q465.1,732.5 471.6,731.5 L501.1,728.5" fill="none" stroke="#62469f" stroke-width="3.0" stroke-linecap="round"/>
<path d="M465.0,732.0 Q465.0,725.0 470.1,725.0 L502.1,723.7" fill="none" stroke="#2c86d2" stroke-width="3.0" stroke-linecap="round"/>
<path d="M463.0,865.2 Q464.6,868.5 470.6,868.0 L497.6,864.8" fill="none" stroke="#666666" stroke-width="3.0" stroke-linecap="round" stroke-linejoin="round"/>
<path d="M463.0,925.7 Q463.6,932.2 468.6,931.7 L497.6,928.4" fill="none" stroke="#ec5a2b" stroke-width="3.2" stroke-linecap="round"/>
<path d="M462.6,822.0 L462.6,715.8 Q462.6,710.8 467.6,710.4 L497.6,707.3" fill="none" stroke="#262626" stroke-width="2.9" stroke-linejoin="round"/>
<path d="M506.8,741.6 Q506.8,736.6 510.8,736.6 L539.8,733.4" fill="none" stroke="#23984b" stroke-width="3.0" stroke-linecap="round"/>
<path d="M506.8,737.5 Q507.3,730.5 513.8,729.5 L543.3,727.7" fill="none" stroke="#62469f" stroke-width="3.0" stroke-linecap="round"/>
<path d="M507.2,732.3 Q507.2,725.3 512.3,725.3 L544.3,723.7" fill="none" stroke="#2c86d2" stroke-width="3.0" stroke-linecap="round"/>
<path d="M505.2,852.2 Q506.8,855.0 512.8,854.5 L539.8,851.2" fill="none" stroke="#666666" stroke-width="3.0" stroke-linecap="round" stroke-linejoin="round"/>
<path d="M505.2,901.7 Q505.8,908.2 510.8,907.7 L539.8,904.7" fill="none" stroke="#ec5a2b" stroke-width="3.2" stroke-linecap="round"/>
<path d="M504.8,824.0 L504.8,715.0 Q504.8,710.0 509.8,709.6 L539.8,706.0" fill="none" stroke="#262626" stroke-width="2.9" stroke-linejoin="round"/>
<path d="M549.0,739.2 Q549.0,734.2 553.0,734.2 L582.0,731.8" fill="none" stroke="#23984b" stroke-width="3.0" stroke-linecap="round"/>
<path d="M549.0,736.5 Q549.5,729.5 556.0,728.5 L585.5,727.0" fill="none" stroke="#62469f" stroke-width="3.0" stroke-linecap="round"/>
<path d="M549.4,732.3 Q549.4,725.3 554.5,725.3 L586.5,724.0" fill="none" stroke="#2c86d2" stroke-width="3.0" stroke-linecap="round"/>
<path d="M547.4,839.8 Q549.0,842.5 555.0,842.0 L582.0,840.2" fill="none" stroke="#666666" stroke-width="3.0" stroke-linecap="round" stroke-linejoin="round"/>
<path d="M547.4,881.5 Q548.0,888.0 553.0,887.5 L582.0,883.6" fill="none" stroke="#ec5a2b" stroke-width="3.2" stroke-linecap="round"/>
<path d="M547.0,830.0 L547.0,714.2 Q547.0,709.2 552.0,708.8 L582.0,705.2" fill="none" stroke="#262626" stroke-width="2.9" stroke-linejoin="round"/>
<line x1="167.6" y1="694.0" x2="167.6" y2="795.0" stroke="#2c86d2" stroke-width="2.6" />
<line x1="167.6" y1="795.0" x2="167.6" y2="860.0" stroke="#2c86d2" stroke-width="2.4" stroke-dasharray="2 4"/>
<circle cx="167.4" cy="873.6" r="1.4" fill="#2c86d2"/>
<circle cx="167.3" cy="888.7" r="1.4" fill="#2c86d2"/>
<circle cx="167.9" cy="903.9" r="1.4" fill="#2c86d2"/>
<circle cx="167.3" cy="919.0" r="1.4" fill="#2c86d2"/>
<circle cx="167.3" cy="934.1" r="1.4" fill="#2c86d2"/>
<circle cx="167.5" cy="949.3" r="1.4" fill="#2c86d2"/>
<circle cx="167.8" cy="964.4" r="1.4" fill="#2c86d2"/>
<path d="M166.8,860.5 C167.5,864.2 169.5,876.4 171.0,883.0 C172.5,889.6 174.3,895.2 176.0,900.0 C177.7,904.8 179.0,907.7 181.0,912.0 C183.0,916.3 185.8,921.9 188.0,926.0 C190.2,930.1 192.0,933.5 194.0,936.5 C196.0,939.5 198.8,943.0 199.8,944.3" fill="none" stroke="#666666" stroke-width="3.0" stroke-linejoin="round" stroke-linecap="round" />
<path d="M166.8,981.8 C167.1,986.8 167.9,1003.0 168.5,1012.0 C169.1,1021.0 169.8,1029.5 170.5,1036.0 C171.2,1042.5 171.6,1045.8 172.5,1051.0 C173.4,1056.2 174.6,1062.2 176.0,1067.0 C177.4,1071.8 179.2,1076.5 181.0,1080.0 C182.8,1083.5 185.0,1086.0 187.0,1088.0 C189.0,1090.0 191.0,1091.1 193.0,1092.0 C195.0,1092.9 198.0,1093.2 199.0,1093.5" fill="none" stroke="#ec5a2b" stroke-width="3.2" stroke-linejoin="round" stroke-linecap="round" />
<circle cx="166.9" cy="1098.8" r="1.4" fill="#ec5a2b"/>
<circle cx="167.1" cy="1104.4" r="1.4" fill="#ec5a2b"/>
<circle cx="167.1" cy="1110.0" r="1.4" fill="#ec5a2b"/>
<circle cx="167.6" cy="1115.6" r="1.4" fill="#ec5a2b"/>
<circle cx="167.2" cy="1121.2" r="1.4" fill="#ec5a2b"/>
<circle cx="167.7" cy="1126.8" r="1.4" fill="#ec5a2b"/>
<circle cx="167.0" cy="1132.4" r="1.4" fill="#ec5a2b"/>
<circle cx="167.1" cy="1138.0" r="1.4" fill="#ec5a2b"/>
<circle cx="167.5" cy="1143.6" r="1.4" fill="#ec5a2b"/>
<circle cx="167.7" cy="1149.2" r="1.4" fill="#ec5a2b"/>
<path d="M167.5,719.0 C168.2,719.6 169.9,721.2 172.0,722.5 C174.1,723.8 177.0,725.2 180.0,726.5 C183.0,727.8 186.7,729.0 190.0,730.0 C193.3,731.0 198.3,732.3 200.0,732.8" fill="none" stroke="#23984b" stroke-width="3.0" stroke-linejoin="round" stroke-linecap="round" />
<path d="M167.5,716.5 C168.2,717.0 169.9,718.4 172.0,719.5 C174.1,720.6 177.0,722.0 180.0,723.0 C183.0,724.0 186.7,725.1 190.0,725.8 C193.3,726.5 198.3,727.0 200.0,727.2" fill="none" stroke="#62469f" stroke-width="3.0" stroke-linejoin="round" stroke-linecap="round" />
<path d="M166.8,700.0 C168.2,700.2 171.1,701.1 175.0,701.5 C178.9,701.9 185.8,702.3 190.0,702.5 C194.2,702.7 198.3,702.8 200.0,702.8" fill="none" stroke="#262626" stroke-width="3.0" stroke-linejoin="round" stroke-linecap="round" />
<path d="M167.6,699.0 C167.7,698.1 167.3,693.9 168.0,693.5 C168.7,693.1 170.0,695.2 172.0,696.5 C174.0,697.8 177.0,700.0 180.0,701.5 C183.0,703.0 186.7,704.4 190.0,705.5 C193.3,706.6 198.3,707.9 200.0,708.4" fill="none" stroke="#2c86d2" stroke-width="3.0" stroke-linejoin="round" stroke-linecap="round" />
<line x1="190.4" y1="645.5" x2="190.4" y2="706.0" stroke="#2c86d2" stroke-width="2.4" />
<line x1="592.0" y1="727.0" x2="592.0" y2="845.0" stroke="#2c86d2" stroke-width="2.6" />
<line x1="591.2" y1="735.0" x2="591.2" y2="845.0" stroke="#62469f" stroke-width="1.6" />
<line x1="590.8" y1="845.0" x2="590.8" y2="1000.0" stroke="#27294a" stroke-width="3.2" stroke-dasharray="2.4 1.8"/>
<line x1="592.2" y1="850.0" x2="592.2" y2="1040.0" stroke="#2e8a80" stroke-width="1.6" stroke-dasharray="1.6 4.4"/>
<circle cx="590.1" cy="1008.7" r="1.4" fill="#ec5a2b"/>
<circle cx="589.8" cy="1026.1" r="1.4" fill="#ec5a2b"/>
<circle cx="589.7" cy="1043.6" r="1.4" fill="#ec5a2b"/>
<circle cx="590.1" cy="1061.0" r="1.4" fill="#ec5a2b"/>
<circle cx="589.8" cy="1078.4" r="1.4" fill="#ec5a2b"/>
<circle cx="590.4" cy="1095.9" r="1.4" fill="#ec5a2b"/>
<circle cx="590.4" cy="1113.3" r="1.4" fill="#ec5a2b"/>
<circle cx="589.8" cy="1050.2" r="1.3" fill="#505060"/>
<circle cx="589.9" cy="1070.8" r="1.3" fill="#505060"/>
<circle cx="590.4" cy="1091.2" r="1.3" fill="#505060"/>
<circle cx="590.2" cy="1111.8" r="1.3" fill="#505060"/>
<path d="M590.1,829.0 C591.1,829.4 591.0,831.4 596.0,831.6 C601.0,831.8 611.0,831.2 620.0,830.2 C629.0,829.2 636.7,827.8 650.0,825.8 C663.3,823.8 683.3,820.6 700.0,818.0 C716.7,815.4 733.3,812.6 750.0,810.0 C766.7,807.4 783.3,804.6 800.0,802.1 C816.7,799.6 833.3,797.1 850.0,794.9 C866.7,792.7 882.3,790.9 900.0,789.1 C917.7,787.4 946.7,785.2 956.0,784.4" fill="none" stroke="#666666" stroke-width="3.0" stroke-linejoin="round" stroke-linecap="round" />
<line x1="956.6" y1="645.5" x2="956.6" y2="785.0" stroke="#6e6e6e" stroke-width="2.4" />
<path d="M957.0,783.0 C957.5,783.4 958.7,785.2 960.0,785.5 C961.3,785.8 960.0,785.7 965.0,785.0 C970.0,784.3 985.8,781.8 990.0,781.2" fill="none" stroke="#666666" stroke-width="3.0" stroke-linejoin="round" stroke-linecap="round" />
<path d="M590.6,855.0 C591.1,856.2 592.3,860.2 593.5,862.0 C594.7,863.8 595.5,865.0 598.0,866.0 C600.5,867.0 605.0,868.0 608.2,868.3 C611.4,868.6 614.2,868.2 617.0,867.6 C619.8,867.0 623.8,865.0 625.1,864.5" fill="none" stroke="#ec5a2b" stroke-width="3.2" stroke-linejoin="round" stroke-linecap="round" />
<path d="M623.7,872.0 C629.8,869.6 647.3,862.5 660.0,857.6 C672.7,852.7 686.7,847.5 700.0,842.7 C713.3,837.9 726.7,833.2 740.0,828.6 C753.3,824.0 766.7,819.6 780.0,815.4 C793.3,811.2 806.7,807.1 820.0,803.2 C833.3,799.3 846.7,795.4 860.0,791.8 C873.3,788.1 886.7,784.6 900.0,781.3 C913.3,778.0 925.0,775.1 940.0,771.8 C955.0,768.5 981.7,763.3 990.0,761.6" fill="none" stroke="#ec5a2b" stroke-width="3.0" stroke-linejoin="round" stroke-linecap="round" />
<path d="M591.6,739 Q591.6,732.5 595,732.2" fill="none" stroke="#23984b" stroke-width="3.0"/>
<path d="M595.0,732.2 C604.4,731.2 636.2,728.1 651.4,726.5 C666.6,724.9 660.4,723.9 686.0,722.4 C711.6,720.9 754.3,718.5 805.0,717.2 C855.7,715.9 959.2,714.9 990.0,714.4" fill="none" stroke="#23984b" stroke-width="3.0" stroke-linejoin="round" stroke-linecap="round" />
<line x1="686.3" y1="645.5" x2="686.3" y2="722.0" stroke="#23984b" stroke-width="2.4" />
<path d="M591.6,738 Q591.6,731.5 596,731" fill="none" stroke="#62469f" stroke-width="3.0"/>
<path d="M596.0,731.0 C605.2,730.1 616.6,726.8 651.4,725.4 C686.2,724.0 748.6,723.3 805.0,722.5 C861.4,721.7 959.2,720.9 990.0,720.6" fill="none" stroke="#62469f" stroke-width="3.0" stroke-linejoin="round" stroke-linecap="round" />
<path d="M592.0,733 Q592.0,725.6 598,725.4" fill="none" stroke="#2c86d2" stroke-width="3.0"/>
<path d="M598.0,725.4 C606.9,725.0 616.9,723.9 651.4,723.2 C685.9,722.5 748.6,722.0 805.0,721.0 C861.4,720.0 959.2,718.1 990.0,717.5" fill="none" stroke="#2c86d2" stroke-width="3.0" stroke-linejoin="round" stroke-linecap="round" />
<line x1="810.3" y1="645.0" x2="810.3" y2="716.0" stroke="#2c86d2" stroke-width="2.4" />
<path d="M810.3,712 Q811,719.5 817,720" fill="none" stroke="#2c86d2" stroke-width="2.2"/>
<path d="M589.6,845 L589.6,713.5 Q589.6,708.5 594.5,707.6" fill="none" stroke="#262626" stroke-width="2.9" stroke-linejoin="round"/>
<path d="M594.5,707.6 C600.3,706.9 612.4,704.7 629.3,703.6 C646.2,702.5 666.6,701.9 695.7,701.0 C724.8,700.1 755.1,699.1 804.1,698.3 C853.1,697.5 959.0,696.4 990.0,696.0" fill="none" stroke="#262626" stroke-width="3.0" stroke-linejoin="round" stroke-linecap="round" />
<line x1="612.0" y1="702.2" x2="612.0" y2="706.1" stroke="#262626" stroke-width="1.4"/>
<line x1="643.0" y1="699.7" x2="643.0" y2="703.6" stroke="#262626" stroke-width="1.4"/>
<line x1="674.0" y1="698.4" x2="674.0" y2="702.3" stroke="#262626" stroke-width="1.4"/>
<line x1="705.0" y1="697.4" x2="705.0" y2="701.3" stroke="#262626" stroke-width="1.4"/>
<line x1="736.0" y1="696.6" x2="736.0" y2="700.5" stroke="#262626" stroke-width="1.4"/>
<line x1="767.0" y1="695.8" x2="767.0" y2="699.7" stroke="#262626" stroke-width="1.4"/>
<line x1="798.0" y1="695.1" x2="798.0" y2="699.0" stroke="#262626" stroke-width="1.4"/>
<line x1="829.0" y1="694.6" x2="829.0" y2="698.5" stroke="#262626" stroke-width="1.4"/>
<line x1="860.0" y1="694.2" x2="860.0" y2="698.1" stroke="#262626" stroke-width="1.4"/>
<line x1="891.0" y1="693.8" x2="891.0" y2="697.7" stroke="#262626" stroke-width="1.4"/>
<line x1="922.0" y1="693.4" x2="922.0" y2="697.3" stroke="#262626" stroke-width="1.4"/>
<line x1="953.0" y1="693.1" x2="953.0" y2="697.0" stroke="#262626" stroke-width="1.4"/>
<line x1="984.0" y1="692.7" x2="984.0" y2="696.6" stroke="#262626" stroke-width="1.4"/>
<line x1="640.0" y1="862.1" x2="640.0" y2="866.0" stroke="#ec5a2b" stroke-width="1.4"/>
<line x1="669.5" y1="850.7" x2="669.5" y2="854.6" stroke="#ec5a2b" stroke-width="1.4"/>
<line x1="699.0" y1="839.7" x2="699.0" y2="843.6" stroke="#ec5a2b" stroke-width="1.4"/>
<line x1="728.5" y1="829.3" x2="728.5" y2="833.2" stroke="#ec5a2b" stroke-width="1.4"/>
<line x1="758.0" y1="819.3" x2="758.0" y2="823.2" stroke="#ec5a2b" stroke-width="1.4"/>
<line x1="787.5" y1="809.7" x2="787.5" y2="813.6" stroke="#ec5a2b" stroke-width="1.4"/>
<line x1="817.0" y1="800.7" x2="817.0" y2="804.6" stroke="#ec5a2b" stroke-width="1.4"/>
<line x1="846.5" y1="792.2" x2="846.5" y2="796.1" stroke="#ec5a2b" stroke-width="1.4"/>
<line x1="876.0" y1="784.2" x2="876.0" y2="788.1" stroke="#ec5a2b" stroke-width="1.4"/>
<line x1="905.5" y1="776.6" x2="905.5" y2="780.5" stroke="#ec5a2b" stroke-width="1.4"/>
<line x1="935.0" y1="769.6" x2="935.0" y2="773.5" stroke="#ec5a2b" stroke-width="1.4"/>
<line x1="964.5" y1="763.4" x2="964.5" y2="767.3" stroke="#ec5a2b" stroke-width="1.4"/>
<line x1="612.0" y1="827.3" x2="612.0" y2="831.2" stroke="#666666" stroke-width="1.4"/>
<line x1="641.0" y1="823.7" x2="641.0" y2="827.6" stroke="#666666" stroke-width="1.4"/>
<line x1="670.0" y1="819.3" x2="670.0" y2="823.2" stroke="#666666" stroke-width="1.4"/>
<line x1="699.0" y1="814.8" x2="699.0" y2="818.7" stroke="#666666" stroke-width="1.4"/>
<line x1="728.0" y1="810.1" x2="728.0" y2="814.0" stroke="#666666" stroke-width="1.4"/>
<line x1="757.0" y1="805.5" x2="757.0" y2="809.4" stroke="#666666" stroke-width="1.4"/>
<line x1="786.0" y1="800.9" x2="786.0" y2="804.8" stroke="#666666" stroke-width="1.4"/>
<line x1="815.0" y1="796.5" x2="815.0" y2="800.4" stroke="#666666" stroke-width="1.4"/>
<line x1="844.0" y1="792.4" x2="844.0" y2="796.3" stroke="#666666" stroke-width="1.4"/>
<line x1="873.0" y1="788.8" x2="873.0" y2="792.7" stroke="#666666" stroke-width="1.4"/>
<line x1="902.0" y1="785.5" x2="902.0" y2="789.4" stroke="#666666" stroke-width="1.4"/>
<line x1="931.0" y1="783.1" x2="931.0" y2="787.0" stroke="#666666" stroke-width="1.4"/>
<line x1="620.0" y1="726.3" x2="620.0" y2="730.2" stroke="#23984b" stroke-width="1.4"/>
<line x1="653.0" y1="722.9" x2="653.0" y2="726.8" stroke="#23984b" stroke-width="1.4"/>
<line x1="686.0" y1="719.0" x2="686.0" y2="722.9" stroke="#23984b" stroke-width="1.4"/>
<line x1="719.0" y1="717.6" x2="719.0" y2="721.5" stroke="#23984b" stroke-width="1.4"/>
<line x1="752.0" y1="716.1" x2="752.0" y2="720.0" stroke="#23984b" stroke-width="1.4"/>
<line x1="785.0" y1="714.7" x2="785.0" y2="718.6" stroke="#23984b" stroke-width="1.4"/>
<line x1="818.0" y1="713.6" x2="818.0" y2="717.5" stroke="#23984b" stroke-width="1.4"/>
<line x1="851.0" y1="713.1" x2="851.0" y2="717.0" stroke="#23984b" stroke-width="1.4"/>
<line x1="884.0" y1="712.6" x2="884.0" y2="716.5" stroke="#23984b" stroke-width="1.4"/>
<line x1="917.0" y1="712.1" x2="917.0" y2="716.0" stroke="#23984b" stroke-width="1.4"/>
<line x1="950.0" y1="711.6" x2="950.0" y2="715.5" stroke="#23984b" stroke-width="1.4"/>
<line x1="983.0" y1="711.1" x2="983.0" y2="715.0" stroke="#23984b" stroke-width="1.4"/>
<line x1="222.6" y1="702.8" x2="222.6" y2="706.3" stroke="#262626" stroke-width="1.4"/>
<line x1="233.6" y1="702.4" x2="233.6" y2="705.9" stroke="#262626" stroke-width="1.4"/>
<line x1="220.6" y1="1076.9" x2="220.6" y2="1080.6" stroke="#ec5a2b" stroke-width="1.4"/>
<line x1="232.6" y1="1073.9" x2="232.6" y2="1077.6" stroke="#ec5a2b" stroke-width="1.4"/>
<line x1="225.6" y1="966.7" x2="225.6" y2="970.4" stroke="#666666" stroke-width="1.4"/>
<line x1="239.6" y1="966.0" x2="239.6" y2="969.7" stroke="#666666" stroke-width="1.4"/>
<line x1="224.6" y1="737.9" x2="224.6" y2="741.2" stroke="#23984b" stroke-width="1.4"/>
<line x1="237.6" y1="737.9" x2="237.6" y2="741.2" stroke="#23984b" stroke-width="1.4"/>
<line x1="265.4" y1="705.7" x2="265.4" y2="709.2" stroke="#262626" stroke-width="1.4"/>
<line x1="276.4" y1="705.3" x2="276.4" y2="708.8" stroke="#262626" stroke-width="1.4"/>
<line x1="263.4" y1="1055.3" x2="263.4" y2="1059.0" stroke="#ec5a2b" stroke-width="1.4"/>
<line x1="275.4" y1="1052.3" x2="275.4" y2="1056.0" stroke="#ec5a2b" stroke-width="1.4"/>
<line x1="268.4" y1="961.8" x2="268.4" y2="965.5" stroke="#666666" stroke-width="1.4"/>
<line x1="282.4" y1="960.2" x2="282.4" y2="963.9" stroke="#666666" stroke-width="1.4"/>
<line x1="267.4" y1="743.1" x2="267.4" y2="746.4" stroke="#23984b" stroke-width="1.4"/>
<line x1="280.4" y1="742.5" x2="280.4" y2="745.8" stroke="#23984b" stroke-width="1.4"/>
<line x1="308.0" y1="707.4" x2="308.0" y2="710.9" stroke="#262626" stroke-width="1.4"/>
<line x1="319.0" y1="706.5" x2="319.0" y2="710.0" stroke="#262626" stroke-width="1.4"/>
<line x1="306.0" y1="1030.3" x2="306.0" y2="1034.0" stroke="#ec5a2b" stroke-width="1.4"/>
<line x1="318.0" y1="1026.7" x2="318.0" y2="1030.4" stroke="#ec5a2b" stroke-width="1.4"/>
<line x1="311.0" y1="944.9" x2="311.0" y2="948.6" stroke="#666666" stroke-width="1.4"/>
<line x1="325.0" y1="941.9" x2="325.0" y2="945.6" stroke="#666666" stroke-width="1.4"/>
<line x1="310.0" y1="744.0" x2="310.0" y2="747.3" stroke="#23984b" stroke-width="1.4"/>
<line x1="323.0" y1="743.2" x2="323.0" y2="746.5" stroke="#23984b" stroke-width="1.4"/>
<line x1="350.2" y1="707.9" x2="350.2" y2="711.4" stroke="#262626" stroke-width="1.4"/>
<line x1="361.2" y1="706.7" x2="361.2" y2="710.2" stroke="#262626" stroke-width="1.4"/>
<line x1="348.2" y1="1004.3" x2="348.2" y2="1008.0" stroke="#ec5a2b" stroke-width="1.4"/>
<line x1="360.2" y1="1000.7" x2="360.2" y2="1004.4" stroke="#ec5a2b" stroke-width="1.4"/>
<line x1="353.2" y1="924.2" x2="353.2" y2="927.9" stroke="#666666" stroke-width="1.4"/>
<line x1="367.2" y1="920.5" x2="367.2" y2="924.2" stroke="#666666" stroke-width="1.4"/>
<line x1="352.2" y1="743.7" x2="352.2" y2="747.0" stroke="#23984b" stroke-width="1.4"/>
<line x1="365.2" y1="742.1" x2="365.2" y2="745.4" stroke="#23984b" stroke-width="1.4"/>
<line x1="392.4" y1="707.3" x2="392.4" y2="710.8" stroke="#262626" stroke-width="1.4"/>
<line x1="403.4" y1="706.4" x2="403.4" y2="709.9" stroke="#262626" stroke-width="1.4"/>
<line x1="390.4" y1="977.0" x2="390.4" y2="980.7" stroke="#ec5a2b" stroke-width="1.4"/>
<line x1="402.4" y1="973.8" x2="402.4" y2="977.5" stroke="#ec5a2b" stroke-width="1.4"/>
<line x1="395.4" y1="900.6" x2="395.4" y2="904.3" stroke="#666666" stroke-width="1.4"/>
<line x1="409.4" y1="897.3" x2="409.4" y2="901.0" stroke="#666666" stroke-width="1.4"/>
<line x1="394.4" y1="741.0" x2="394.4" y2="744.3" stroke="#23984b" stroke-width="1.4"/>
<line x1="407.4" y1="739.3" x2="407.4" y2="742.6" stroke="#23984b" stroke-width="1.4"/>
<line x1="434.6" y1="707.6" x2="434.6" y2="711.1" stroke="#262626" stroke-width="1.4"/>
<line x1="445.6" y1="706.2" x2="445.6" y2="709.7" stroke="#262626" stroke-width="1.4"/>
<line x1="432.6" y1="951.2" x2="432.6" y2="954.9" stroke="#ec5a2b" stroke-width="1.4"/>
<line x1="444.6" y1="948.5" x2="444.6" y2="952.2" stroke="#ec5a2b" stroke-width="1.4"/>
<line x1="437.6" y1="880.4" x2="437.6" y2="884.1" stroke="#666666" stroke-width="1.4"/>
<line x1="451.6" y1="878.1" x2="451.6" y2="881.8" stroke="#666666" stroke-width="1.4"/>
<line x1="436.6" y1="738.8" x2="436.6" y2="742.1" stroke="#23984b" stroke-width="1.4"/>
<line x1="449.6" y1="737.2" x2="449.6" y2="740.5" stroke="#23984b" stroke-width="1.4"/>
<line x1="476.6" y1="706.8" x2="476.6" y2="710.2" stroke="#262626" stroke-width="1.4"/>
<line x1="487.6" y1="705.5" x2="487.6" y2="709.0" stroke="#262626" stroke-width="1.4"/>
<line x1="474.6" y1="927.0" x2="474.6" y2="930.7" stroke="#ec5a2b" stroke-width="1.4"/>
<line x1="486.6" y1="926.1" x2="486.6" y2="929.8" stroke="#ec5a2b" stroke-width="1.4"/>
<line x1="479.6" y1="863.4" x2="479.6" y2="867.1" stroke="#666666" stroke-width="1.4"/>
<line x1="493.6" y1="862.0" x2="493.6" y2="865.7" stroke="#666666" stroke-width="1.4"/>
<line x1="478.6" y1="735.8" x2="478.6" y2="739.1" stroke="#23984b" stroke-width="1.4"/>
<line x1="491.6" y1="734.6" x2="491.6" y2="737.9" stroke="#23984b" stroke-width="1.4"/>
<line x1="518.8" y1="705.8" x2="518.8" y2="709.3" stroke="#262626" stroke-width="1.4"/>
<line x1="529.8" y1="704.3" x2="529.8" y2="707.8" stroke="#262626" stroke-width="1.4"/>
<line x1="516.8" y1="903.1" x2="516.8" y2="906.8" stroke="#ec5a2b" stroke-width="1.4"/>
<line x1="528.8" y1="902.3" x2="528.8" y2="906.0" stroke="#ec5a2b" stroke-width="1.4"/>
<line x1="521.8" y1="849.9" x2="521.8" y2="853.6" stroke="#666666" stroke-width="1.4"/>
<line x1="535.8" y1="848.4" x2="535.8" y2="852.1" stroke="#666666" stroke-width="1.4"/>
<line x1="520.8" y1="732.7" x2="520.8" y2="736.0" stroke="#23984b" stroke-width="1.4"/>
<line x1="533.8" y1="731.3" x2="533.8" y2="734.6" stroke="#23984b" stroke-width="1.4"/>
<line x1="561.0" y1="705.0" x2="561.0" y2="708.5" stroke="#262626" stroke-width="1.4"/>
<line x1="572.0" y1="703.5" x2="572.0" y2="707.0" stroke="#262626" stroke-width="1.4"/>
<line x1="559.0" y1="882.7" x2="559.0" y2="886.4" stroke="#ec5a2b" stroke-width="1.4"/>
<line x1="571.0" y1="881.5" x2="571.0" y2="885.2" stroke="#ec5a2b" stroke-width="1.4"/>
<line x1="564.0" y1="837.9" x2="564.0" y2="841.6" stroke="#666666" stroke-width="1.4"/>
<line x1="578.0" y1="837.2" x2="578.0" y2="840.9" stroke="#666666" stroke-width="1.4"/>
<line x1="563.0" y1="730.6" x2="563.0" y2="733.9" stroke="#23984b" stroke-width="1.4"/>
<line x1="576.0" y1="729.5" x2="576.0" y2="732.8" stroke="#23984b" stroke-width="1.4"/>
<line x1="343.2" y1="645.5" x2="343.2" y2="925.0" stroke="#777" stroke-width="2.2" />
<line x1="486.4" y1="645.5" x2="486.4" y2="930.0" stroke="#ec5a2b" stroke-width="2.4" />
<text x="211.4" y="678.0" font-size="33.5">Pd<tspan font-size="23" dy="6">61</tspan></text>
<text x="287.4" y="679.4" font-size="33.5" text-anchor="start" >Pt</text>
<text x="373.8" y="670.3" font-size="33.5">Pd<tspan font-size="23" dy="6">11</tspan></text>
<text x="603.6" y="687.4" font-size="33.5">Pd<tspan font-size="23" dy="6">53</tspan></text>
<text x="639.8" y="800.8" font-size="33.5">Pd<tspan font-size="23" dy="6">75</tspan></text>
<text x="630.6" y="907.0" font-size="33.5">Pd<tspan font-size="23" dy="6">84</tspan></text>
<line x1="245.1" y1="688.6" x2="270.4" y2="745.6" stroke="#1e1e1e" stroke-width="1.8" />
<line x1="301.1" y1="680.8" x2="315.5" y2="714.6" stroke="#1e1e1e" stroke-width="1.8" />
<line x1="388.5" y1="679.4" x2="358.9" y2="730.1" stroke="#1e1e1e" stroke-width="1.8" />
</svg>
</body></html>
